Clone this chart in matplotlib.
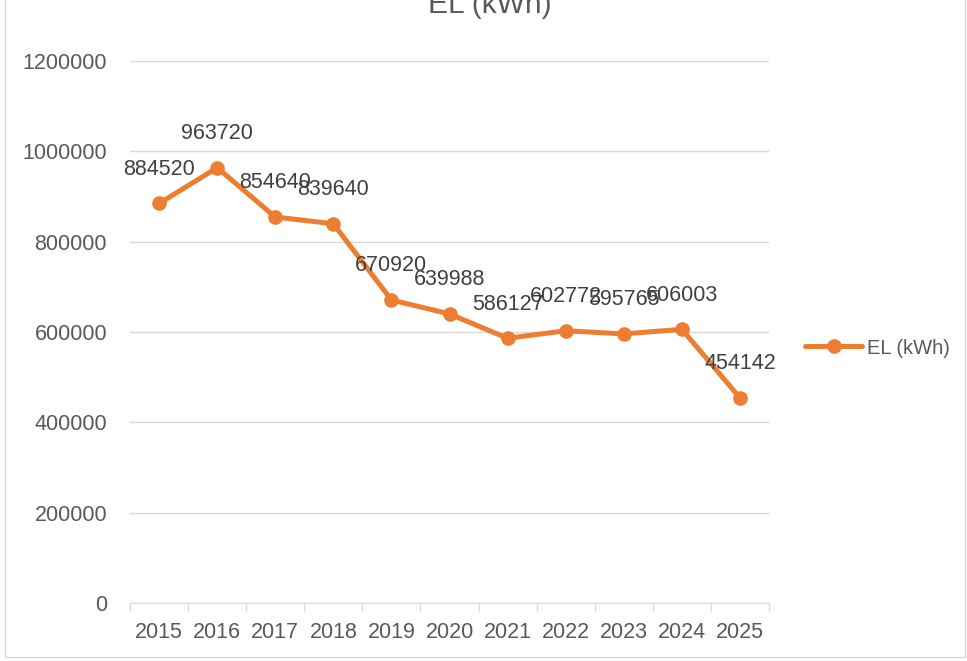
import matplotlib.pyplot as plt
from matplotlib.patches import Rectangle

years = ['2015', '2016', '2017', '2018', '2019', '2020',
         '2021', '2022', '2023', '2024', '2025']
el_kwh = [884520, 963720, 854640, 839640, 670920, 639988,
          586127, 602772, 595765, 606003, 454142]
y_ticks = [0, 200000, 400000, 600000, 800000, 1000000, 1200000]

ORANGE = '#ED7D31'
TEXT = '#595959'
GRID = '#D9D9D9'
FS = 15.5


def main():
    plt.rcParams['font.family'] = ['Liberation Sans', 'DejaVu Sans']
    fig = plt.figure(figsize=(9.67, 6.61), dpi=100)
    W, H = 967, 661
    ax = fig.add_axes([130 / W, 1 - 603 / H, (769 - 130) / W, (603 - 61) / H])

    x = list(range(len(years)))
    ax.plot(x, el_kwh, color=ORANGE, lw=3.6, marker='o', ms=9.5,
            solid_capstyle='round', solid_joinstyle='round',
            label='EL (kWh)', zorder=3)
    for xi, v in zip(x, el_kwh):
        ax.annotate(str(v), (xi, v), xytext=(0, 34), textcoords='offset pixels',
                    ha='center', va='center', fontsize=FS, color='#404040',
                    zorder=4)

    ax.set_xlim(-0.5, len(years) - 0.5)
    ax.set_ylim(0, 1200000)
    ax.set_yticks(y_ticks)
    ax.set_yticklabels([str(t) for t in y_ticks])
    ax.set_xticks(x)
    ax.set_xticklabels(years)
    ax.set_xticks([i - 0.5 for i in range(len(years) + 1)], minor=True)
    ax.tick_params(axis='x', which='major', length=0, pad=14,
                   labelsize=FS, labelcolor=TEXT)
    ax.tick_params(axis='x', which='minor', length=6, color=GRID, width=1)
    ax.tick_params(axis='y', length=0, pad=16.5, labelsize=FS, labelcolor=TEXT)

    ax.grid(axis='y', color=GRID, lw=1)
    ax.set_axisbelow(True)
    for side in ('left', 'right', 'top'):
        ax.spines[side].set_visible(False)
    ax.spines['bottom'].set_color(GRID)

    leg = ax.legend(loc='center left', bbox_to_anchor=(805 / W, 1 - 348 / H),
                    bbox_transform=fig.transFigure, frameon=False,
                    fontsize=14.5, handlelength=2.85, handletextpad=0.25,
                    borderaxespad=0, borderpad=0)
    for t in leg.get_texts():
        t.set_color(TEXT)

    fig.text(490 / W, 1 - 13 / H, 'EL (kWh)', ha='center', va='baseline',
             fontsize=21.5, color=TEXT)

    fig.patches.append(Rectangle((5 / W, 4 / H), 960 / W, 1.2,
                                 transform=fig.transFigure, fill=False,
                                 edgecolor=GRID, lw=1))

    fig.savefig('out.png', dpi=100, facecolor='white')


if __name__ == '__main__':
    main()
